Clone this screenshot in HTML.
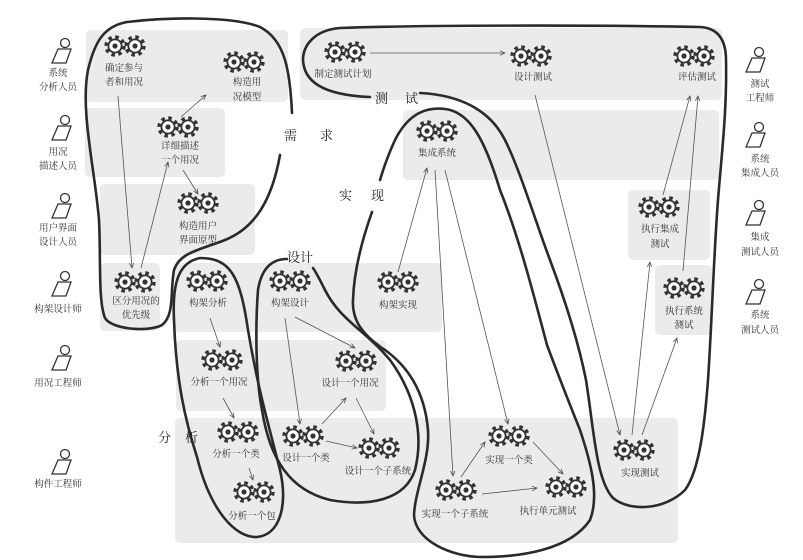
<!DOCTYPE html>
<html><head><meta charset="utf-8"><style>
html,body{margin:0;padding:0;background:#fff;}
svg{display:block;font-family:"Liberation Serif","Noto Serif CJK SC","Noto Sans CJK SC",serif;}
.l{font-size:9.5px;fill:#333;text-anchor:middle;}
.b{font-size:13px;fill:#222;}
.o{fill:none;stroke:#2a2a2a;stroke-width:2.6;stroke-linecap:round;}
.a{fill:none;stroke:#555;stroke-width:0.8;}
</style></head><body>
<svg width="803" height="560" viewBox="0 0 803 560" xmlns="http://www.w3.org/2000/svg">
<defs>
<g id="g1"><circle r="9" fill="none" stroke="#333" stroke-width="3.4" stroke-dasharray="3.5 3.57"/><circle r="6.6" fill="#fff" stroke="#333" stroke-width="1.8"/><circle r="2.6" fill="#333"/></g>
<g id="gp"><use href="#g1" x="-10"/><use href="#g1" x="10"/></g>
<g id="act"><circle cx="3" cy="0" r="4.5" fill="#fff" stroke="#333" stroke-width="1.3"/><path d="M-4 6 L9 6 L4 20 L-10 20 Z" fill="#fff" stroke="#333" stroke-width="1.3"/></g>
<marker id="ar" viewBox="0 0 10 10" refX="9" refY="5" markerWidth="7" markerHeight="7" orient="auto-start-reverse"><path d="M0 1 L9 5 L0 9" fill="none" stroke="#444" stroke-width="1.3"/></marker>
</defs>
<!-- bands -->
<g fill="#ebebeb">
<rect x="86" y="30" width="202" height="72" rx="5"/>
<rect x="300" y="28" width="422" height="72" rx="5"/>
<rect x="85" y="108" width="140" height="69" rx="5"/>
<rect x="403" y="110" width="316" height="70" rx="5"/>
<rect x="100" y="184" width="155" height="71" rx="5"/>
<rect x="628" y="190" width="82" height="70" rx="5"/>
<rect x="100" y="263" width="60" height="68" rx="5"/>
<rect x="174" y="263" width="268" height="69" rx="5"/>
<rect x="655" y="265" width="57" height="70" rx="5"/>
<rect x="176" y="340" width="210" height="71" rx="5"/>
<rect x="175" y="418" width="503" height="125" rx="5"/>
</g>
<!-- outlines -->
<path class="o" d="M292 113 C290 70 285 40 260 27 C230 15 160 18 127 22 C105 26 95 40 88 70 C80 110 95 170 99 220 C101 260 98 300 105 318 C112 330 150 332 162 325 C175 315 170 290 174 270 C180 252 200 250 225 240 C255 228 272 200 280 155"/>
<path class="o" d="M200 258 C230 258 240 275 248 330 C258 390 270 430 280 470 C288 505 280 535 257 537 C235 538 210 510 197 457 C185 420 176 380 174 320 C172 280 180 262 200 258 Z"/>
<path class="o" d="M287 259 C275 259 262 265 258 290 C255 330 256 380 262 410 C270 460 290 490 330 500 C370 507 405 500 415 470 C425 430 412 390 390 360 C365 330 340 320 325 290 C320 280 316 272 313 268"/>
<path class="o" d="M372 212 C362 240 354 270 353 300 C352 320 362 335 385 350 C410 368 425 395 428 430 C430 460 415 490 414 515 C415 540 450 557 483 557 C520 557 570 550 590 520 C600 495 590 460 580 430 C568 400 560 380 547 345 C535 300 520 240 500 190 C485 140 470 112 445 109 C420 106 405 120 395 140 C388 155 383 170 380 180"/>
<path class="o" d="M420 93 C460 95 490 110 505 140 C520 170 535 220 550 260 C565 300 578 340 586 380 C594 430 596 480 613 498 C630 512 665 510 685 490 C700 470 705 420 708 380 C712 320 714 250 718 200 C722 150 727 110 726 60 C726 40 718 28 700 27 C600 25 420 25 340 28 C315 30 303 45 303 60 C304 80 320 95 370 97"/>
<!-- big labels -->
<text class="b" x="284" y="140">需</text><text class="b" x="320" y="140">求</text>
<text class="b" x="375" y="103">测</text><text class="b" x="405" y="103">试</text>
<text class="b" x="339" y="200">实</text><text class="b" x="371" y="200">现</text>
<text class="b" x="287" y="262">设计</text>
<text class="b" x="158" y="442">分</text><text class="b" x="185" y="442">析</text>
<!-- actors left -->
<use href="#act" x="62" y="43"/><text class="l" x="58" y="76">系统</text><text class="l" x="58" y="90">分析人员</text>
<use href="#act" x="62" y="120"/><text class="l" x="58" y="155">用况</text><text class="l" x="58" y="169">描述人员</text>
<use href="#act" x="62" y="198"/><text class="l" x="58" y="231">用户界面</text><text class="l" x="58" y="245">设计人员</text>
<use href="#act" x="62" y="276"/><text class="l" x="58" y="312">构架设计师</text>
<use href="#act" x="62" y="350"/><text class="l" x="58" y="386">用况工程师</text>
<use href="#act" x="62" y="454"/><text class="l" x="58" y="487">构件工程师</text>
<!-- actors right -->
<use href="#act" x="756" y="52"/><text class="l" x="760" y="87">测试</text><text class="l" x="760" y="101">工程师</text>
<use href="#act" x="756" y="127"/><text class="l" x="760" y="162">系统</text><text class="l" x="760" y="176">集成人员</text>
<use href="#act" x="756" y="205"/><text class="l" x="760" y="240">集成</text><text class="l" x="760" y="255">测试人员</text>
<use href="#act" x="756" y="284"/><text class="l" x="760" y="318">系统</text><text class="l" x="760" y="333">测试人员</text>
<!-- nodes -->
<use href="#gp" x="125" y="46"/><text class="l" x="124" y="71">确定参与</text><text class="l" x="124" y="85">者和用况</text>
<use href="#gp" x="244" y="62"/><text class="l" x="247" y="85">构造用</text><text class="l" x="247" y="100">况模型</text>
<use href="#gp" x="178" y="127"/><text class="l" x="180" y="149">详细描述</text><text class="l" x="180" y="163">一个用况</text>
<use href="#gp" x="198" y="203"/><text class="l" x="198" y="229">构造用户</text><text class="l" x="198" y="243">界面原型</text>
<use href="#gp" x="135" y="282"/><text class="l" x="136" y="304">区分用况的</text><text class="l" x="136" y="318">优先级</text>
<use href="#gp" x="207" y="281"/><text class="l" x="208" y="306">构架分析</text>
<use href="#gp" x="222" y="360"/><text class="l" x="219" y="385">分析一个用况</text>
<use href="#gp" x="238" y="432"/><text class="l" x="236" y="457">分析一个类</text>
<use href="#gp" x="254" y="492"/><text class="l" x="252" y="519">分析一个包</text>
<use href="#gp" x="290" y="281"/><text class="l" x="290" y="306">构架设计</text>
<use href="#gp" x="356" y="361"/><text class="l" x="350" y="386">设计一个用况</text>
<use href="#gp" x="303" y="436"/><text class="l" x="306" y="461">设计一个类</text>
<use href="#gp" x="379" y="448"/><text class="l" x="378" y="474">设计一个子系统</text>
<use href="#gp" x="398" y="282"/><text class="l" x="398" y="308">构架实现</text>
<use href="#gp" x="437" y="131"/><text class="l" x="437" y="156">集成系统</text>
<use href="#gp" x="456" y="490"/><text class="l" x="455" y="517">实现一个子系统</text>
<use href="#gp" x="509" y="436"/><text class="l" x="509" y="463">实现一个类</text>
<use href="#gp" x="566" y="487"/><text class="l" x="548" y="514">执行单元测试</text>
<use href="#gp" x="634" y="450"/><text class="l" x="640" y="476">实现测试</text>
<use href="#gp" x="659" y="207"/><text class="l" x="660" y="232">执行集成</text><text class="l" x="660" y="247">测试</text>
<use href="#gp" x="684" y="288"/><text class="l" x="684" y="314">执行系统</text><text class="l" x="684" y="328">测试</text>
<use href="#gp" x="694" y="56"/><text class="l" x="697" y="80">评估测试</text>
<use href="#gp" x="531" y="56"/><text class="l" x="533" y="80">设计测试</text>
<use href="#gp" x="345" y="52"/><text class="l" x="343" y="77">制定测试计划</text>
<!-- arrows -->
<g class="a" marker-end="url(#ar)">
<path d="M118 96 L132 268"/>
<path d="M141 268 L168 162"/>
<path d="M181 117 L206 95"/>
<path d="M183 170 L198 194"/>
<path d="M210 318 L220 347"/>
<path d="M223 398 L234 418"/>
<path d="M249 468 L253 480"/>
<path d="M285 318 L300 424"/>
<path d="M295 317 L355 348"/>
<path d="M322 424 L346 398"/>
<path d="M356 398 L374 434"/>
<path d="M326 441 L357 448"/>
<path d="M398 272 L427 168"/>
<path d="M435 170 L453 476"/>
<path d="M445 170 L508 424"/>
<path d="M461 477 L485 442"/>
<path d="M482 494 L537 488"/>
<path d="M533 442 L563 474"/>
<path d="M370 53 L505 53"/>
<path d="M535 95 L620 435"/>
<path d="M632 435 L650 262"/>
<path d="M642 435 L677 338"/>
<path d="M663 195 L690 96"/>
<path d="M683 271 L698 96"/>
</g>
</svg>
</body></html>
